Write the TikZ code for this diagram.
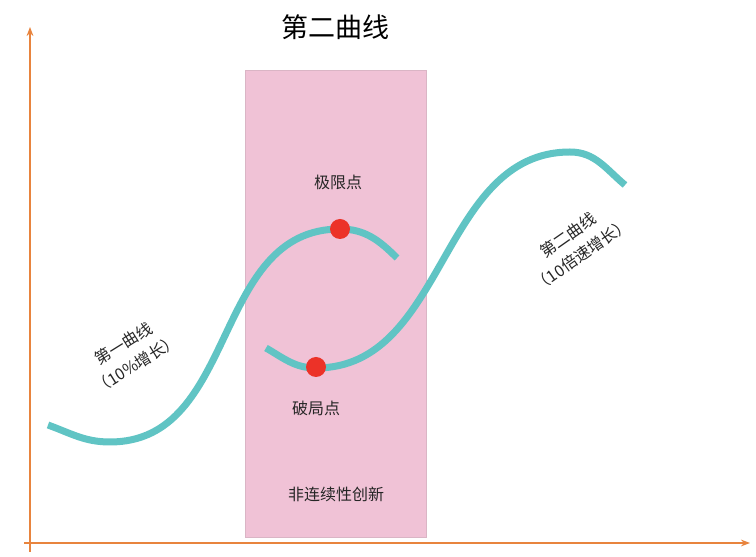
\documentclass[tikz,border=0pt]{standalone}
\usepackage{fontspec}
\setmainfont{Noto Sans CJK SC}
\usetikzlibrary{arrows.meta}
\definecolor{ax}{RGB}{232,132,62}
\definecolor{pk}{RGB}{240,194,214}
\definecolor{tl}{RGB}{96,196,196}
\definecolor{rd}{RGB}{236,50,40}
\tikzset{curve/.style={tl,line width=7pt},dot/.style={circle,fill=rd,minimum size=20pt,inner sep=0pt},
lbl/.style={font=\fontsize{16}{24}\selectfont,text=black!85,align=center}}
\begin{document}
\begin{tikzpicture}[x=1pt,y=1pt]
\useasboundingbox (0,0) rectangle (756,557);
\fill[white] (0,0) rectangle (756,557);
\draw[pk!80!gray,fill=pk] (245,20) rectangle (426,487);
\draw[ax,line width=1.8pt,-{Stealth[length=9pt]}] (30,5) -- (30,530);
\draw[ax,line width=1.8pt,-{Stealth[length=9pt]}] (24,14) -- (750,14);
\draw[curve] (48,132) to[out=-20,in=180] (110,115) to[out=0,in=180,looseness=1.05] (340,328) to[out=0,in=135] (397,299);
\draw[curve] (266,209) to[out=-30,in=180] (316,189) to[out=0,in=180] (570,405) to[out=0,in=140] (625,372);
\node[dot] (a) at (340,328) {};
\node[dot] (b) at (316,190) {};
\node[font=\fontsize{27}{32}\selectfont] (t) at (335,530) {第二曲线};
\node[lbl] (l1) at (338,375) {极限点};
\node[lbl] (l2) at (316,149) {破局点};
\node[lbl] (l3) at (336,63) {非连续性创新};
\node[lbl,rotate=32] (c1) at (130,203) {第一曲线\\（10\%增长）};
\node[lbl,rotate=35] (c2) at (575,312) {第二曲线\\（10倍速增长）};
\end{tikzpicture}
\end{document}
